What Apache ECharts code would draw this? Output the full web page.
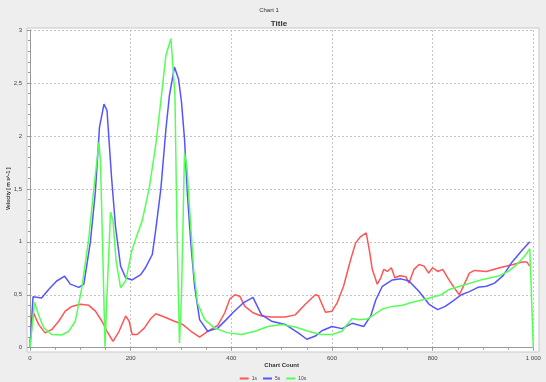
<!DOCTYPE html>
<html>
<head>
<meta charset="utf-8">
<script src="https://cdn.jsdelivr.net/npm/echarts@6/dist/echarts.min.js"></script>
<style>
  html, body { margin: 0; padding: 0; background: #eeeeee; }
  #chart { width: 546px; height: 382px; }
</style>
</head>
<body>
<div id="chart"></div>
<script>
var seriesNames = ['1s', '5s', '10s'];

var red1s = [[0, 0.05], [7, 0.33], [17, 0.22], [30, 0.14], [43, 0.17], [57, 0.25], [70, 0.345], [83, 0.39],
    [100, 0.41], [117, 0.4], [130, 0.345], [143, 0.25], [153, 0.155], [165, 0.06], [177, 0.155], [190, 0.3],
    [197, 0.25], [203, 0.125], [213, 0.125], [227, 0.185], [240, 0.275], [250, 0.32], [267, 0.29], [287, 0.25],
    [303, 0.22], [320, 0.155], [337, 0.1], [353, 0.155], [373, 0.21], [387, 0.33], [397, 0.46], [407, 0.5],
    [417, 0.485], [427, 0.39], [443, 0.33], [460, 0.3], [480, 0.29], [507, 0.29], [527, 0.31], [547, 0.41],
    [567, 0.5], [573, 0.49], [587, 0.335], [600, 0.345], [610, 0.42], [623, 0.58], [637, 0.83], [647, 0.99],
    [657, 1.05], [668, 1.085], [675, 0.9], [680, 0.74], [690, 0.6], [697, 0.66], [703, 0.74], [710, 0.72],
    [718, 0.755], [725, 0.66], [735, 0.68], [747, 0.67], [753, 0.61], [763, 0.74], [773, 0.785], [783, 0.77],
    [792, 0.705], [800, 0.755], [810, 0.72], [820, 0.74], [830, 0.66], [843, 0.565], [853, 0.5], [863, 0.6],
    [873, 0.705], [883, 0.73], [907, 0.72], [933, 0.755], [960, 0.785], [978, 0.81], [987, 0.81], [993, 0.77]];

var blue5s = [[0, 0], [6, 0.48], [23, 0.47], [37, 0.55], [53, 0.63], [69, 0.675], [80, 0.6], [97, 0.57],
    [107, 0.6], [120, 1.0], [130, 1.48], [138, 2.08], [147, 2.3], [153, 2.24], [162, 1.61], [170, 1.14],
    [180, 0.77], [190, 0.66], [203, 0.64], [220, 0.69], [230, 0.76], [243, 0.88], [250, 1.12], [260, 1.5],
    [270, 2.06], [277, 2.38], [287, 2.65], [295, 2.54], [301, 2.32], [307, 1.97], [313, 1.43], [320, 0.96],
    [327, 0.58], [337, 0.265], [353, 0.155], [373, 0.185], [390, 0.265], [403, 0.33], [423, 0.42], [443, 0.475],
    [460, 0.31], [480, 0.25], [507, 0.22], [533, 0.14], [550, 0.08], [567, 0.11], [580, 0.16], [600, 0.2],
    [620, 0.18], [640, 0.23], [663, 0.2], [677, 0.3], [687, 0.45], [700, 0.58], [720, 0.64], [737, 0.65],
    [753, 0.63], [773, 0.53], [793, 0.41], [810, 0.36], [825, 0.39], [840, 0.44], [857, 0.5], [873, 0.53],
    [890, 0.57], [907, 0.58], [923, 0.61], [940, 0.68], [958, 0.81], [976, 0.91], [993, 1.0]];

var green10s = [[0, 0], [9, 0.43], [17, 0.31], [27, 0.19], [43, 0.125], [63, 0.12], [77, 0.155], [90, 0.25],
    [103, 0.565], [117, 1.04], [127, 1.51], [137, 1.94], [140, 1.76], [145, 0.82], [149, 0.01], [153, 0.5],
    [160, 1.28], [165, 1.2], [171, 0.82], [180, 0.565], [190, 0.63], [202, 0.91], [213, 1.07], [223, 1.2],
    [237, 1.51], [250, 1.92], [260, 2.33], [270, 2.76], [280, 2.92], [288, 2.38], [292, 1.12], [297, 0.045],
    [301, 0.49], [307, 1.84], [312, 1.69], [319, 1.18], [325, 0.74], [333, 0.42], [347, 0.265], [367, 0.185],
    [393, 0.14], [420, 0.125], [447, 0.155], [473, 0.2], [500, 0.22], [527, 0.195], [553, 0.155], [577, 0.125],
    [600, 0.125], [620, 0.155], [630, 0.22], [640, 0.275], [653, 0.265], [670, 0.27], [683, 0.31], [700, 0.365],
    [720, 0.39], [740, 0.4], [760, 0.43], [787, 0.46], [817, 0.5], [833, 0.55], [867, 0.6], [900, 0.645],
    [933, 0.68], [950, 0.72], [967, 0.785], [983, 0.865], [993, 0.935], [1000, 0]];

var colors = ['#ff5555', '#5555ff', '#55ff55'];
var font = 'Liberation Sans';

var myChart = echarts.init(document.getElementById('chart'));

function lineSeries(name, data, color) {
    return {
        name: name,
        type: 'line',
        data: data,
        showSymbol: false,
        symbol: 'none',
        lineStyle: { color: color, width: 1.5 },
        itemStyle: { color: color },
        animation: false
    };
}

var option = {
    backgroundColor: '#eeeeee',
    animation: false,
    textStyle: { fontFamily: font },
    title: [
        {
            text: 'Chart 1',
            left: 264, top: 2, textAlign: 'center',
            textStyle: { fontSize: 6, fontWeight: 'normal', color: '#333', fontFamily: font }
        },
        {
            text: 'Title',
            left: 274, top: 15, textAlign: 'center',
            textStyle: { fontSize: 8, fontWeight: 'bold', color: '#333', fontFamily: font }
        }
    ],
    graphic: [{
        type: 'rect',
        z: -10,
        shape: { x: 27, y: 28, width: 512, height: 324 },
        style: { fill: '#ffffff', stroke: '#c8c8c8', lineWidth: 1 }
    }],
    legend: {
        data: seriesNames,
        left: 'center',
        top: 371,
        itemWidth: 9,
        itemHeight: 2,
        itemGap: 6,
        icon: 'rect',
        textStyle: { fontSize: 5, color: '#444', fontFamily: font, padding: [0, 0, 0, -2] }
    },
    grid: {
        left: 30,
        top: 30,
        width: 503.3,
        height: 317.7,
        containLabel: false,
        outerBoundsMode: 'none'
    },
    xAxis: {
        type: 'value',
        min: 0,
        max: 1000,
        interval: 200,
        offset: 4,
        name: 'Chart Count',
        nameLocation: 'middle',
        nameGap: 11,
        nameMoveOverlap: false,
        nameTextStyle: { fontSize: 6, fontWeight: 'bold', color: '#333', fontFamily: font },
        axisLine: { show: true, lineStyle: { color: '#999', width: 1 } },
        axisTick: { show: true, length: 3, lineStyle: { color: '#999' } },
        minorTick: { show: true, splitNumber: 4, length: 2, lineStyle: { color: '#999' } },
        axisLabel: {
            fontSize: 6, color: '#444', margin: 4, fontFamily: font,
            formatter: function (v) { return v >= 1000 ? '1 000' : String(v); }
        },
        splitLine: { show: true, lineStyle: { color: '#c4c4c4', type: [2, 2], width: 1 } }
    },
    yAxis: {
        type: 'value',
        min: 0,
        max: 3,
        interval: 0.5,
        offset: 3,
        name: 'Velocity [ m s^-1 ]',
        nameLocation: 'middle',
        nameGap: 16,
        nameRotate: 90,
        nameMoveOverlap: false,
        nameTextStyle: { fontSize: 5, fontWeight: 'bold', color: '#333', fontFamily: font },
        axisLine: { show: true, lineStyle: { color: '#999', width: 1 } },
        axisTick: { show: true, length: 3, lineStyle: { color: '#999' } },
        minorTick: { show: true, splitNumber: 5, length: 2, lineStyle: { color: '#999' } },
        axisLabel: {
            fontSize: 6, color: '#444', margin: 5, fontFamily: font,
            formatter: function (v) { return String(v).replace('.', ','); }
        },
        splitLine: { show: true, lineStyle: { color: '#c4c4c4', type: [2, 2], width: 1 } }
    },
    series: [
        lineSeries(seriesNames[0], red1s, colors[0]),
        lineSeries(seriesNames[1], blue5s, colors[1]),
        lineSeries(seriesNames[2], green10s, colors[2])
    ]
};

myChart.setOption(option);
</script>
</body>
</html>
